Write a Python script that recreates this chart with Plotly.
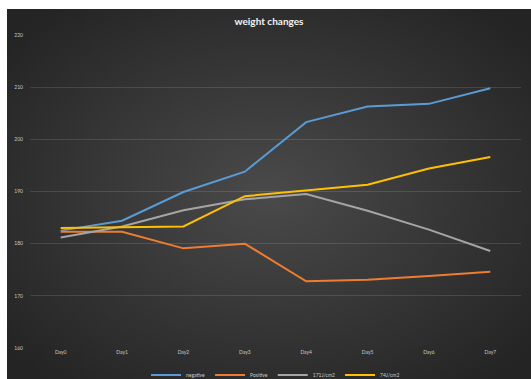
import base64
import plotly.graph_objects as go

days = ["Day0", "Day1", "Day2", "Day3", "Day4", "Day5", "Day6", "Day7"]
negative = [182.5, 184.4, 189.9, 193.8, 203.3, 206.3, 206.8, 209.8]
positive = [182.3, 182.3, 179.1, 180.0, 172.8, 173.1, 173.8, 174.6]
j171 = [181.2, 183.3, 186.4, 188.5, 189.5, 186.3, 182.7, 178.6]
j74 = [183.0, 183.1, 183.3, 189.1, 190.2, 191.3, 194.4, 196.6]

series = [
    ("negative", negative, "#5b9bd5"),
    ("Positive", positive, "#ed7d31"),
    ("171J/cm2", j171, "#a5a5a5"),
    ("74J/cm2", j74, "#ffc000"),
]

W, H = 531, 379
ml, mr, mt, mb = 30, 10, 35, 31
pw, ph = W - ml - mr, H - mt - mb

svg = (
    "<svg xmlns='http://www.w3.org/2000/svg' width='524' height='370' preserveAspectRatio='none'>"
    "<defs><radialGradient id='g' cx='50%' cy='50%' r='65%'>"
    "<stop offset='0' stop-color='#4a4a4a'/><stop offset='1' stop-color='#242424'/>"
    "</radialGradient></defs><rect width='524' height='370' fill='url(#g)'/></svg>"
)
src = "data:image/svg+xml;base64," + base64.b64encode(svg.encode()).decode()

fig = go.Figure()
for name, vals, color in series:
    fig.add_trace(go.Scatter(x=days, y=vals, name=name, mode="lines",
                             line=dict(color=color, width=2)))

fig.update_layout(
    width=W, height=H,
    margin=dict(l=ml, r=mr, t=mt, b=mb, autoexpand=False),
    paper_bgcolor="white",
    plot_bgcolor="rgba(0,0,0,0)",
    font=dict(family="Lato, sans-serif", color="#c8c8c8", size=5),
    title=dict(text="<b>weight changes</b>", x=269 / W, xanchor="center",
               y=1 - 21 / H, yanchor="middle",
               font=dict(size=10, color="#f2f2f2", family="Lato, sans-serif")),
    images=[dict(source=src, xref="paper", yref="paper",
                 x=(7 - ml) / pw, y=1 + (mt - 9) / ph,
                 sizex=524 / pw, sizey=370 / ph, sizing="stretch",
                 xanchor="left", yanchor="top", layer="below")],
    xaxis=dict(showgrid=False, zeroline=False, showline=False, ticks="",
               tickfont=dict(size=5, color="#c8c8c8"), range=[-0.5, 7.5]),
    yaxis=dict(range=[160, 220], dtick=10, showgrid=True,
               gridcolor="rgba(255,255,255,0.12)", gridwidth=1,
               zeroline=False, showline=False, ticks="",
               tickfont=dict(size=5, color="#c8c8c8"), ticklabelstandoff=6),
    legend=dict(orientation="h", x=0.5, xanchor="center",
                y=-(375 - 348) / ph, yanchor="middle",
                font=dict(size=5, color="#c8c8c8"), itemwidth=30,
                bgcolor="rgba(0,0,0,0)", tracegroupgap=0),
    showlegend=True,
)

fig.write_html("out.html")
